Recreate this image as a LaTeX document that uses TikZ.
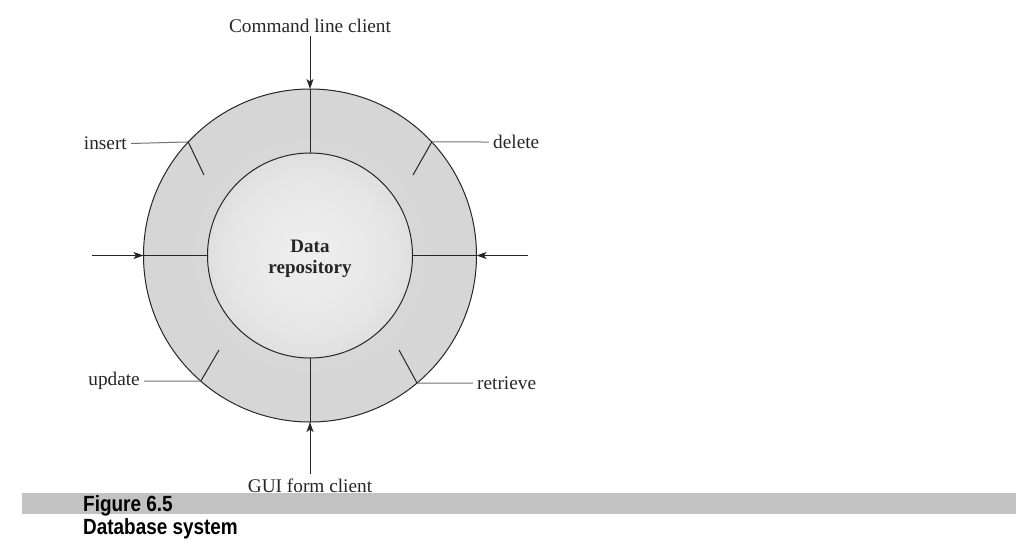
\documentclass[tikz,border=0pt]{standalone}
\usepackage{fontspec}
\setmainfont{Liberation Serif}
\newfontfamily\capfont[FakeStretch=0.86]{Liberation Sans}
\usetikzlibrary{arrows.meta}
\pgfdeclareradialshading{ringshade}{\pgfpoint{0bp}{0bp}}{color(0bp)=(gray!30); color(30bp)=(gray!33); color(50bp)=(gray!42)}
\pgfdeclareradialshading{coreshade}{\pgfpoint{0bp}{0bp}}{color(0bp)=(gray!12); color(20bp)=(gray!20); color(50bp)=(gray!50)}
\begin{document}
\begin{tikzpicture}[x=1pt,y=-1pt,
  lab/.style={font=\fontsize{19.3}{23}\selectfont, text=black!85, inner sep=4pt},
  ln/.style={line width=1pt, draw=black!85},
  lead/.style={line width=1pt, draw=black!55},
  arr/.style={ln, -{Stealth[length=10pt,width=7pt,inset=2.5pt]}},
  ring/.style={circle, inner sep=0pt, outer sep=0pt, draw=black!85, line width=1pt}]
\useasboundingbox (0,0) rectangle (1016,550);
% caption bar
\fill[gray!48] (22,493) rectangle (1016,514);
% circles
\node[ring, minimum size=333pt, shading=ringshade] (outer) at (310,255.5) {};
\node[ring, minimum size=205pt, shading=coreshade] (core) at (310,255.5) {};
\node[font=\bfseries\fontsize{19}{21.5}\selectfont, text=black!85, align=center, inner sep=0pt] (drlabel) at (310,259) {Data\\repository};
% top / bottom clients
\node[lab, anchor=base] (cmd) at (310,32) {Command line client};
\draw[arr] (cmd.south) -- (outer.north);
\draw[ln] (outer.north) -- (core.north);
\node[lab, anchor=base] (gui) at (310,492) {GUI form client};
\draw[arr] (gui.north) -- (outer.south);
\draw[ln] (outer.south) -- (core.south);
% side arrows
\coordinate (lin) at (92,255.5);
\coordinate (rin) at (528,255.5);
\draw[arr] (lin) -- (outer.west);
\draw[ln] (outer.west) -- (core.west);
\draw[arr] (rin) -- (outer.east);
\draw[ln] (outer.east) -- (core.east);
% operations
\node[lab, anchor=east] (ins) at (131,143.5) {insert};
\coordinate (insT) at (204,175);
\draw[lead] (ins.east) -- (outer.137.7);
\draw[ln] (outer.137.7) -- (insT);
\node[lab, anchor=west] (del) at (489,142) {delete};
\coordinate (delT) at (413,175);
\draw[lead] (del.west) -- (outer.43);
\draw[ln] (outer.43) -- (delT);
\node[lab, anchor=east] (upd) at (144,381.2) {update};
\coordinate (updT) at (219,350);
\draw[lead] (upd.east) -- (outer.229);
\draw[ln] (outer.229) -- (updT);
\node[lab, anchor=west] (ret) at (473,383) {retrieve};
\coordinate (retT) at (399,350);
\draw[lead] (ret.west) -- (outer.310);
\draw[ln] (outer.310) -- (retT);
% caption
\node[font=\capfont\fontsize{22}{26}\selectfont\bfseries, anchor=base west, inner sep=0pt] (fig) at (83,511) {Figure 6.5};
\node[font=\capfont\fontsize{22}{26}\selectfont\bfseries, anchor=base west, inner sep=0pt] (cap) at (83,534) {Database system};
\end{tikzpicture}
\end{document}
